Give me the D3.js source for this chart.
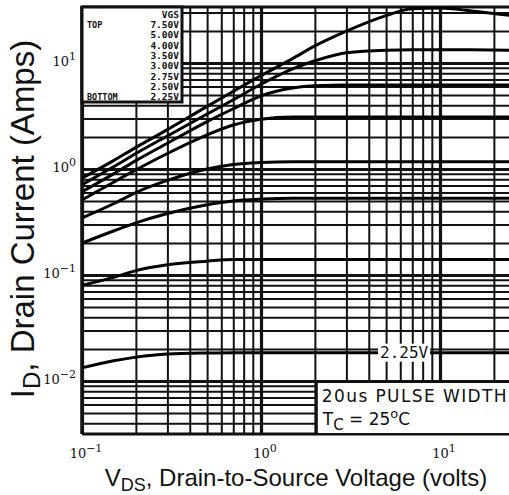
<!DOCTYPE html>
<html>
<head>
<meta charset="utf-8">
<script src="https://cdn.jsdelivr.net/npm/d3@7"></script>
<style>
  html, body { margin: 0; padding: 0; background: #fff; }
  #canvas { width: 509px; height: 495px; }
  text { fill: #111; }
</style>
</head>
<body>
<div id="canvas" class="canvas"></div>
<script>
// data
var vds = [0.1, 0.15, 0.2, 0.3, 0.5, 0.7, 1, 1.5, 2, 3, 5, 7, 10, 15, 25];

var vgsLabels = ['7.50V', '5.00V', '4.00V', '3.50V', '3.00V', '2.75V', '2.50V', '2.25V'];

var id750 = [0.82, 1.2, 1.6, 2.35, 3.9, 5.4, 7.6, 11, 14.5, 20, 28, 32.5, 33, 31, 28];
var id500 = [0.71, 1.05, 1.4, 2.05, 3.3, 4.5, 6.3, 8.8, 10.5, 12.5, 13.2, 13.3, 13.3, 13.3, 13.2];
var id400 = [0.61, 0.9, 1.2, 1.75, 2.8, 3.7, 4.9, 5.8, 6.1, 6.2, 6.2, 6.2, 6.2, 6.2, 6.2];
var id350 = [0.51, 0.75, 0.98, 1.4, 2.1, 2.6, 2.95, 3.1, 3.1, 3.1, 3.1, 3.1, 3.1, 3.1, 3.1];
var id300 = [0.345, 0.47, 0.6, 0.78, 1.0, 1.1, 1.15, 1.17, 1.17, 1.17, 1.17, 1.17, 1.17, 1.17, 1.17];
var id275 = [0.2, 0.26, 0.31, 0.38, 0.46, 0.5, 0.52, 0.53, 0.53, 0.53, 0.53, 0.53, 0.53, 0.53, 0.53];
var id250 = [0.08, 0.095, 0.11, 0.125, 0.135, 0.14, 0.14, 0.14, 0.14, 0.14, 0.14, 0.14, 0.14, 0.14, 0.14];
var id225 = [0.0133, 0.0155, 0.0168, 0.018, 0.0184, 0.0185, 0.0185, 0.0185, 0.0185, 0.0185, 0.0185, 0.0185, 0.0185, 0.0185, 0.0185];

var series = [id750, id500, id400, id350, id300, id275, id250, id225];

var xTickExp = [-1, 0, 1];
var yTickExp = [1, 0, -1, -2];

var W = 509, H = 495;
var m = {t: 7, l: 82, b: 61};
var w = W - m.l, h = H - m.t - m.b;

var svg = d3.select('.canvas').append('svg')
    .attr('width', W).attr('height', H);

var x = d3.scaleLog().domain([0.1, 10]).range([0, 358]);
var y = d3.scaleLog().domain([0.01, 10]).range([374, 56]);

var xMax = x.invert(w), yMin = y.invert(h), yMax = y.invert(0);

function logGrid(lo, hi) {
  var out = [];
  for (var k = -4; k <= 2; k++) {
    for (var j = 1; j <= 9; j++) {
      var v = j * Math.pow(10, k);
      if (v >= lo * 0.999 && v <= hi) out.push(v);
    }
  }
  return out;
}
function isMajor(v) { return Math.abs(Math.log10(v) - Math.round(Math.log10(v))) < 1e-6; }

var plot = svg.append('g').attr('transform', 'translate(' + m.l + ',' + m.t + ')');

svg.append('clipPath').attr('id', 'clip')
  .append('rect').attr('x', 0).attr('y', 0).attr('width', w).attr('height', h);

// grid via axes
var gx = plot.append('g').attr('class', 'gridx')
    .attr('transform', 'translate(0,' + h + ')')
    .call(d3.axisBottom(x).tickValues(logGrid(0.1, xMax)).tickSize(-h).tickFormat(''));
var gy = plot.append('g').attr('class', 'gridy')
    .call(d3.axisLeft(y).tickValues(logGrid(yMin, yMax)).tickSize(-w).tickFormat(''));

[gx, gy].forEach(function(g) {
  g.select('.domain').remove();
  g.selectAll('.tick line')
    .attr('stroke', '#111')
    .attr('stroke-width', function(d) { return isMajor(d) ? 3.2 : 2; });
});

// axis frame
plot.append('line').attr('x1', 0).attr('x2', 0).attr('y1', -1).attr('y2', h)
  .attr('stroke', '#111').attr('stroke-width', 3.5);
plot.append('line').attr('x1', 0).attr('x2', w).attr('y1', h).attr('y2', h)
  .attr('stroke', '#111').attr('stroke-width', 3);
plot.append('line').attr('x1', 0).attr('x2', w).attr('y1', 0).attr('y2', 0)
  .attr('stroke', '#111').attr('stroke-width', 3);

// curves
var line = d3.line()
    .x(function(d) { return x(d[0]); })
    .y(function(d) { return y(d[1]); })
    .curve(d3.curveMonotoneX);

plot.append('g').attr('clip-path', 'url(#clip)')
  .selectAll('.curve')
  .data(series)
  .enter().append('path')
  .attr('class', 'curve')
  .attr('fill', 'none')
  .attr('stroke', '#000')
  .attr('stroke-width', 3)
  .attr('d', function(s) { return line(vds.map(function(v, i) { return [v, s[i]]; })); });

// legend box
var lg = plot.append('g');
lg.append('rect').attr('x', 0).attr('y', 0).attr('width', 100).attr('height', 95)
  .attr('fill', '#fff').attr('stroke', '#111').attr('stroke-width', 3);
var legFont = '"DejaVu Sans Mono", monospace';
lg.append('text').attr('x', 97).attr('y', 11).attr('text-anchor', 'end')
  .style('font', 'bold 9.5px ' + legFont).text('VGS');
lg.selectAll('.lv').data(vgsLabels).enter().append('text')
  .attr('x', 97).attr('y', function(d, i) { return 21 + i * 10.3; })
  .attr('text-anchor', 'end')
  .style('font', 'bold 9.5px ' + legFont)
  .text(function(d) { return d; });
lg.append('text').attr('x', 5).attr('y', 21).style('font', 'bold 8.5px ' + legFont).text('TOP');
lg.append('text').attr('x', 5).attr('y', 21 + 7 * 10.3).style('font', 'bold 8.5px ' + legFont).text('BOTTOM');

// 2.25V label on its curve
var lab = plot.append('g').attr('transform', 'translate(' + x(6.3) + ',' + y(0.0185) + ')');
lab.append('rect').attr('x', -26).attr('y', -9).attr('width', 52).attr('height', 18).attr('fill', '#fff');
lab.append('text').attr('text-anchor', 'middle').attr('dy', 5.5)
  .style('font', '16px "DejaVu Sans Mono", monospace').text('2.25V');

// conditions box
var cb = plot.append('g').attr('transform', 'translate(' + x(2.05) + ',' + (h - 52) + ')');
cb.append('rect').attr('x', 0).attr('y', 0).attr('width', 200).attr('height', 52)
  .attr('fill', '#fff').attr('stroke', '#111').attr('stroke-width', 2);
cb.append('text').attr('x', 5).attr('y', 20)
  .style('font', '17px "DejaVu Sans", sans-serif').style('letter-spacing', '1.4px')
  .text('20us PULSE WIDTH');
var tc = cb.append('text').attr('x', 6).attr('y', 43).style('font', '17px "DejaVu Sans", sans-serif');
tc.append('tspan').text('T');
tc.append('tspan').attr('dy', 5).style('font-size', '15px').text('C');
tc.append('tspan').attr('dy', -5).text(' = 25');
tc.append('tspan').attr('dy', -7).style('font-size', '13px').text('o');
tc.append('tspan').attr('dy', 7).text('C');

// tick labels
var tickFont = '13px "DejaVu Serif", serif';
function powLabel(g, e, anchor) {
  var t = g.append('text').attr('text-anchor', anchor).style('font', tickFont);
  t.append('tspan').text('10');
  t.append('tspan').attr('dy', -6).style('font-size', '11px').text(e < 0 ? '\u2212' + (-e) : String(e));
  return t;
}
xTickExp.forEach(function(e) {
  var g = plot.append('g').attr('transform', 'translate(' + (x(Math.pow(10, e)) + 4) + ',' + (h + 24) + ')');
  powLabel(g, e, 'middle');
});
yTickExp.forEach(function(e) {
  var g = plot.append('g').attr('transform', 'translate(-6,' + (y(Math.pow(10, e)) + 3) + ')');
  powLabel(g, e, 'end');
});

// axis titles
var xt = svg.append('text').attr('x', 296).attr('y', 486).attr('text-anchor', 'middle')
  .style('font', '24px "Liberation Sans", Arial, sans-serif');
xt.append('tspan').text('V');
xt.append('tspan').attr('dy', 5).style('font-size', '18px').text('DS');
xt.append('tspan').attr('dy', -5).text(', Drain-to-Source Voltage (volts)');

var yt = svg.append('text').attr('transform', 'translate(34,219) rotate(-90)').attr('text-anchor', 'middle')
  .style('font', '33px "Liberation Sans", Arial, sans-serif');
yt.append('tspan').text('I');
yt.append('tspan').attr('dy', 6).style('font-size', '24px').text('D');
yt.append('tspan').attr('dy', -6).text(', Drain Current (Amps)');
</script>
</body>
</html>
